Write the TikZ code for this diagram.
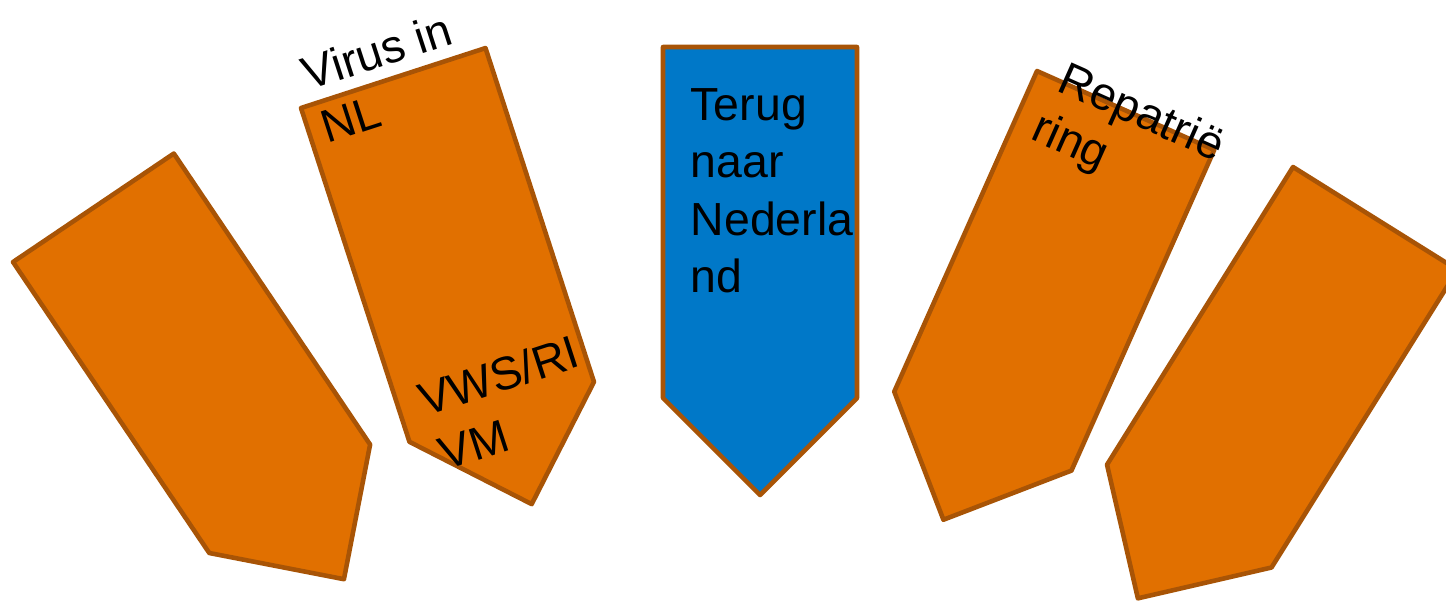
\documentclass[tikz,border=0pt]{standalone}
\usepackage{fontspec}
\setmainfont{Liberation Sans}
\definecolor{boxorange}{RGB}{225,112,0}
\definecolor{boxrim}{RGB}{168,84,6}
\definecolor{boxblue}{RGB}{0,120,200}
\begin{document}
\begin{tikzpicture}[x=0.01cm,y=-0.01cm,
        chevron/.style={draw=boxrim,line width=1.3pt,line join=round},
        txt/.style={anchor=base west,inner sep=0pt,transform shape,font=\fontsize{13.2}{16}\selectfont}]
        \useasboundingbox (0,0) rectangle (1446,602);
        % far left
        \begin{scope}[shift={(13,262)},rotate=34]
            \draw[chevron,fill=boxorange] (0,0) -- (194,0) -- (194,351) -- (97,448) -- (0,351) -- cycle;
        \end{scope}
        % Virus in NL
        \begin{scope}[shift={(301,108)},rotate=18]
            \draw[chevron,fill=boxorange] (0,0) -- (194,0) -- (194,351) -- (97,448) -- (0,351) -- cycle;
            \node[txt] (virus) at (12,-14) {Virus in};
            \node[txt] (nl) at (14,42) {NL};
            \node[txt] (vws) at (22,332) {VWS/RI};
            \node[txt] (vm) at (25,390) {VM};
        \end{scope}
        % middle
        \begin{scope}[shift={(663,47)}]
            \draw[chevron,fill=boxblue] (0,0) -- (194,0) -- (194,351) -- (97,448) -- (0,351) -- cycle;
            \node[txt] (terug) at (27,73) {Terug};
            \node[txt] (naar) at (27,130) {naar};
            \node[txt] (neder) at (27,188) {Nederla};
            \node[txt] (land) at (27,245) {nd};
        \end{scope}
        % Repatriering
        \begin{scope}[shift={(1037,71)},rotate=-24]
            \draw[chevron,fill=boxorange] (0,0) -- (194,0) -- (194,351) -- (97,448) -- (0,351) -- cycle;
            \node[txt] (repat) at (24,10) {Repatrië};
            \node[txt] (ring) at (20,65) {ring};
        \end{scope}
        % far right
        \begin{scope}[shift={(1293,167)},rotate=-32]
            \draw[chevron,fill=boxorange] (0,0) -- (194,0) -- (194,351) -- (97,448) -- (0,351) -- cycle;
        \end{scope}
    \end{tikzpicture}
\end{document}
